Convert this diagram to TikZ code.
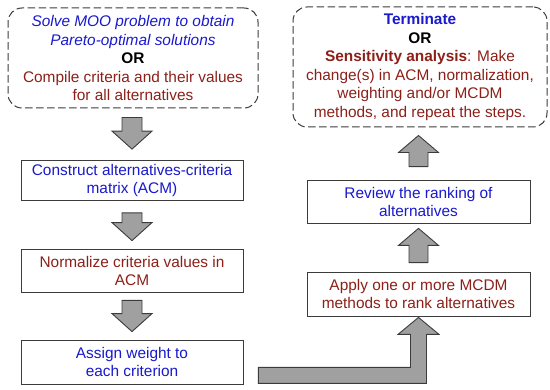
\documentclass[tikz,border=0pt]{standalone}
\usepackage{fontspec}
\setmainfont{Liberation Sans}
\usetikzlibrary{calc}
\definecolor{myblue}{RGB}{25,25,205}
\definecolor{myred}{RGB}{140,32,25}
\definecolor{boxline}{RGB}{60,60,60}
\definecolor{arrowfill}{RGB}{160,160,160}
\tikzset{
  box/.style={draw=boxline, line width=0.8pt, fill=white, minimum width=222pt, inner sep=0pt, align=center, font=\fontsize{15.4}{18}\selectfont},
  dbox/.style={draw=boxline, line width=1pt, dash pattern=on 7.5pt off 3.5pt, rounded corners=14pt, inner sep=0pt, align=center, font=\fontsize{15.4}{18.5}\selectfont},
  fatarrow/.style={draw=boxline, line width=0.9pt, fill=arrowfill, line join=miter},
}
\newcommand{\fatdown}[2]{%
  \draw[fatarrow] ($(#1)+(-10,0)$) -- ($(#1)+(10,0)$) -- ($(#2)+(10,-18)$) -- ($(#2)+(20,-18)$) -- (#2) -- ($(#2)+(-20,-18)$) -- ($(#2)+(-10,-18)$) -- cycle;}
\newcommand{\fatup}[2]{%
  \draw[fatarrow] ($(#1)+(-9.5,0)$) -- ($(#1)+(9.5,0)$) -- ($(#2)+(9.5,17)$) -- ($(#2)+(20,17)$) -- (#2) -- ($(#2)+(-20,17)$) -- ($(#2)+(-9.5,17)$) -- cycle;}
\begin{document}
\begin{tikzpicture}[x=1pt,y=-1pt]
\useasboundingbox (0,0) rectangle (550,390);
% left column
\node[dbox, minimum width=250pt, minimum height=100pt] (start) at (133,58)
  {\textcolor{myblue}{\itshape Solve MOO problem to obtain}\\
   \textcolor{myblue}{\itshape Pareto-optimal solutions}\\
   \textbf{OR}\\
   \textcolor{myred}{Compile criteria and their values}\\
   \textcolor{myred}{for all alternatives}};
\node[box, minimum height=40pt, text=myblue] (acm) at (132,180.5)
  {Construct alternatives-criteria\\matrix (ACM)};
\node[box, minimum height=43pt, text=myred] (norm) at (132,270.5)
  {Normalize criteria values in\\ACM};
\node[box, minimum height=44pt, text=myblue] (weight) at (132,362)
  {Assign weight to\\each criterion};
% right column
\node[box, minimum width=223pt, minimum height=44pt, text=myred] (apply) at (418.5,294)
  {Apply one or more MCDM\\methods to rank alternatives};
\node[box, minimum width=223pt, minimum height=43pt, text=myblue] (review) at (418.5,201.5)
  {Review the ranking of\\alternatives};
\node[dbox, minimum width=254pt, minimum height=120pt] (end) at (420,67)
  {\textcolor{myblue}{\bfseries Terminate}\\
   \textbf{OR}\\
   \textcolor{myred}{\textbf{Sensitivity analysis}: Make}\\
   \textcolor{myred}{change(s) in ACM, normalization,}\\
   \textcolor{myred}{weighting and/or MCDM}\\
   \textcolor{myred}{methods, and repeat the steps.}};
% down arrows
\coordinate (a1s) at ($(start.south)+(-1,9)$);
\coordinate (a1t) at ($(acm.north)+(0,-11)$);
\fatdown{a1s}{a1t}
\coordinate (a2s) at ($(acm.south)+(0,12)$);
\coordinate (a2t) at ($(norm.north)+(0,-8)$);
\fatdown{a2s}{a2t}
\coordinate (a3s) at ($(norm.south)+(0,8)$);
\coordinate (a3t) at ($(weight.north)+(0,-8)$);
\fatdown{a3s}{a3t}
% up arrows
\coordinate (a5s) at ($(apply.north)+(0,-9)$);
\coordinate (a5t) at ($(review.south)+(0,5)$);
\fatup{a5s}{a5t}
\coordinate (a4s) at ($(review.north)+(0,-13)$);
\coordinate (a4t) at ($(end.south)+(-1.5,8)$);
\fatup{a4s}{a4t}
% L-shaped arrow
\coordinate (ls) at ($(weight.south east)+(15,-1)$);
\coordinate (lt) at ($(apply.south)+(0,1)$);
\draw[fatarrow] (ls) -- ++(0,-16) -- ($(lt|-ls)+(-8,-16)$) -- ($(lt)+(-8,17)$) -- ($(lt)+(-20.5,17)$) -- (lt) -- ($(lt)+(20.5,17)$) -- ($(lt)+(8,17)$) -- ($(lt|-ls)+(8,0)$) -- cycle;
\end{tikzpicture}
\end{document}
